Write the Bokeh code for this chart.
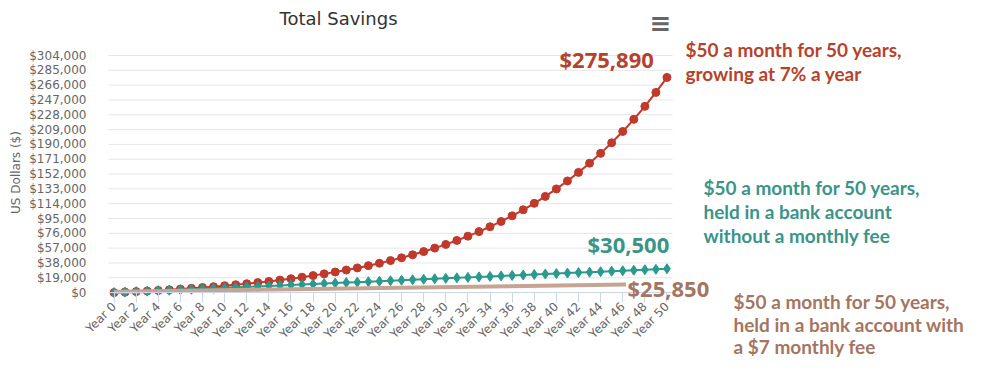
import math
from bokeh.plotting import figure
from bokeh.models import (Range1d, FixedTicker, NumeralTickFormatter, Label, ColumnDataSource)
from bokeh.embed import file_html
from bokeh.resources import INLINE

# ---------------- data ----------------
years = list(range(51))
tick_years = list(range(0, 51, 2))
tick_labels = [f"Year {y}" for y in tick_years]
y_ticks = [0, 19000, 38000, 57000, 76000, 95000, 114000, 133000, 152000,
           171000, 190000, 209000, 228000, 247000, 266000, 285000, 304000]

growth_7pct = [0, 630, 1300, 2020, 2800, 3630, 4520, 5470, 6490, 7590,
               8770, 10030, 11380, 12830, 14380, 16050, 17840, 19760, 21810, 24020,
               26380, 28910, 31630, 34550, 37670, 41020, 44610, 48470, 52600, 57030,
               61780, 66870, 72330, 78190, 84470, 91200, 98430, 106170, 114470, 123370,
               132920, 143160, 154130, 165900, 178520, 192060, 206570, 222130, 238810, 256700,
               275890]
bank_no_fee = [0, 610, 1220, 1830, 2440, 3050, 3660, 4270, 4880, 5490,
               6100, 6710, 7320, 7930, 8540, 9150, 9760, 10370, 10980, 11590,
               12200, 12810, 13420, 14030, 14640, 15250, 15860, 16470, 17080, 17690,
               18300, 18910, 19520, 20130, 20740, 21350, 21960, 22570, 23180, 23790,
               24400, 25010, 25620, 26230, 26840, 27450, 28060, 28670, 29280, 29890,
               30500]
fee_years = [0, 46.3]
bank_fee = [1200, 10300]

# ---------------- styling ----------------
RED = "#c0392b"
TEAL = "#2b9a8e"
BROWN_LINE = "#c6a493"
RED_TXT = "#b5432c"
TEAL_TXT = "#3a9488"
BROWN_TXT = "#a47560"
GREY = "#666666"

# ---------------- geometry ----------------
# the frame covers the whole canvas; axes are pinned with fixed_location
CANVAS_X0, CANVAS_Y0 = 0.0, 0.0          # screen position of canvas corner
W, H = 992, 374
PLOT_L, PLOT_R = 108.0, 672.0            # screen px of the plotting area
PX_X = (PLOT_R - PLOT_L) / 51.0          # px per year
YEAR0_SX = PLOT_L + PX_X / 2
ZERO_SY = 292.1
K = 237.1 / 304000.0                     # px per dollar

def dx(sx):
    return (sx - YEAR0_SX) / PX_X

def dy(sy):
    return (ZERO_SY - sy) / K

p = figure(frame_width=W, frame_height=H, output_backend="svg", toolbar_location=None,
           x_range=Range1d(dx(CANVAS_X0), dx(CANVAS_X0 + W)),
           y_range=Range1d(dy(CANVAS_Y0 + H), dy(CANVAS_Y0)),
           min_border_left=0, min_border_right=0, min_border_top=0, min_border_bottom=0,
           background_fill_color="white", border_fill_color="white")
p.outline_line_color = None

# axes
p.yaxis.fixed_location = dx(PLOT_L)
p.yaxis.ticker = FixedTicker(ticks=y_ticks)
p.yaxis.formatter = NumeralTickFormatter(format="$0,0")
p.yaxis.axis_line_color = None
p.yaxis.major_tick_line_color = None
p.yaxis.minor_tick_line_color = None
p.yaxis.major_label_text_font = "DejaVu Sans"
p.yaxis.major_label_text_font_size = "12px"
p.yaxis.major_label_text_color = GREY
p.yaxis.major_label_standoff = 16

p.xaxis.fixed_location = 0
p.xaxis.ticker = FixedTicker(ticks=tick_years)
p.xaxis.bounds = (dx(PLOT_L), dx(PLOT_R))
p.xaxis.major_label_overrides = {y: lab for y, lab in zip(tick_years, tick_labels)}
p.xaxis.major_label_orientation = math.pi / 4
p.xaxis.axis_line_color = "#ccd6eb"
p.xaxis.major_tick_line_color = "#ccd6eb"
p.xaxis.major_tick_out = 10
p.xaxis.major_tick_in = 0
p.xaxis.minor_tick_line_color = None
p.xaxis.major_label_text_font = "DejaVu Sans"
p.xaxis.major_label_text_font_size = "12px"
p.xaxis.major_label_text_color = GREY
p.xaxis.major_label_standoff = 2

p.xgrid.grid_line_color = None
p.ygrid.grid_line_color = None
# horizontal grid lines limited to the plotting area
n = len(y_ticks)
p.segment(x0=[dx(PLOT_L)] * n, x1=[dx(PLOT_R)] * n, y0=y_ticks, y1=y_ticks,
          line_color="#e6e6e6", line_width=1, level="underlay")

# y axis title
p.add_layout(Label(x=dx(15), y=dy(172), text="US Dollars ($)", angle=math.pi / 2,
                   text_align="center", text_baseline="middle", text_font="DejaVu Sans",
                   text_font_size="12px", text_color=GREY))

# series
src = ColumnDataSource(dict(x=years, red=growth_7pct, teal=bank_no_fee))
p.line("x", "red", source=src, line_color=RED, line_width=2)
p.scatter("x", "red", source=src, marker="circle", size=8, fill_color=RED, line_color=RED)
p.line("x", "teal", source=src, line_color=TEAL, line_width=2)
p.scatter("x", "teal", source=src, marker="diamond", size=10, fill_color=TEAL, line_color=TEAL)
p.line(fee_years, bank_fee, line_color=BROWN_LINE, line_width=4)

# title and menu icon
p.add_layout(Label(x=dx(338), y=dy(18), text="Total Savings", text_align="center",
                   text_baseline="middle", text_font="DejaVu Sans", text_font_size="18px",
                   text_color="#333333"))
p.add_layout(Label(x=dx(660), y=dy(22), text="\u2261", text_align="center",
                   text_baseline="middle", text_font="DejaVu Sans", text_font_size="26px",
                   text_font_style="bold", text_color=GREY))

# value labels
def big(sx, sy, txt, col):
    p.add_layout(Label(x=dx(sx), y=dy(sy), text=txt, text_align="left", text_baseline="middle",
                       text_font="Open Sans", text_font_size="22px", text_font_style="bold",
                       text_color=col))

big(559, 58, "$" + f"{growth_7pct[-1]:,}", RED_TXT)
big(587, 243, "$30,500", TEAL_TXT)
big(627, 287, "$25,850", BROWN_TXT)

def note(sx, sy_list, lines, col):
    for sy, ln in zip(sy_list, lines):
        p.add_layout(Label(x=dx(sx), y=dy(sy), text=ln, text_align="left", text_baseline="middle",
                           text_font="Lato", text_font_size="19px", text_font_style="bold",
                           text_color=col))

note(685, [49, 73], ["$50 a month for 50 years,", "growing at 7% a year"], RED_TXT)
note(703, [187, 211, 235], ["$50 a month for 50 years,", "held in a bank account",
                            "without a monthly fee"], TEAL_TXT)
note(733, [301, 324, 346], ["$50 a month for 50 years,", "held in a bank account with",
                            "a $7 monthly fee"], BROWN_TXT)

open("out.html", "w").write(file_html(p, INLINE))
